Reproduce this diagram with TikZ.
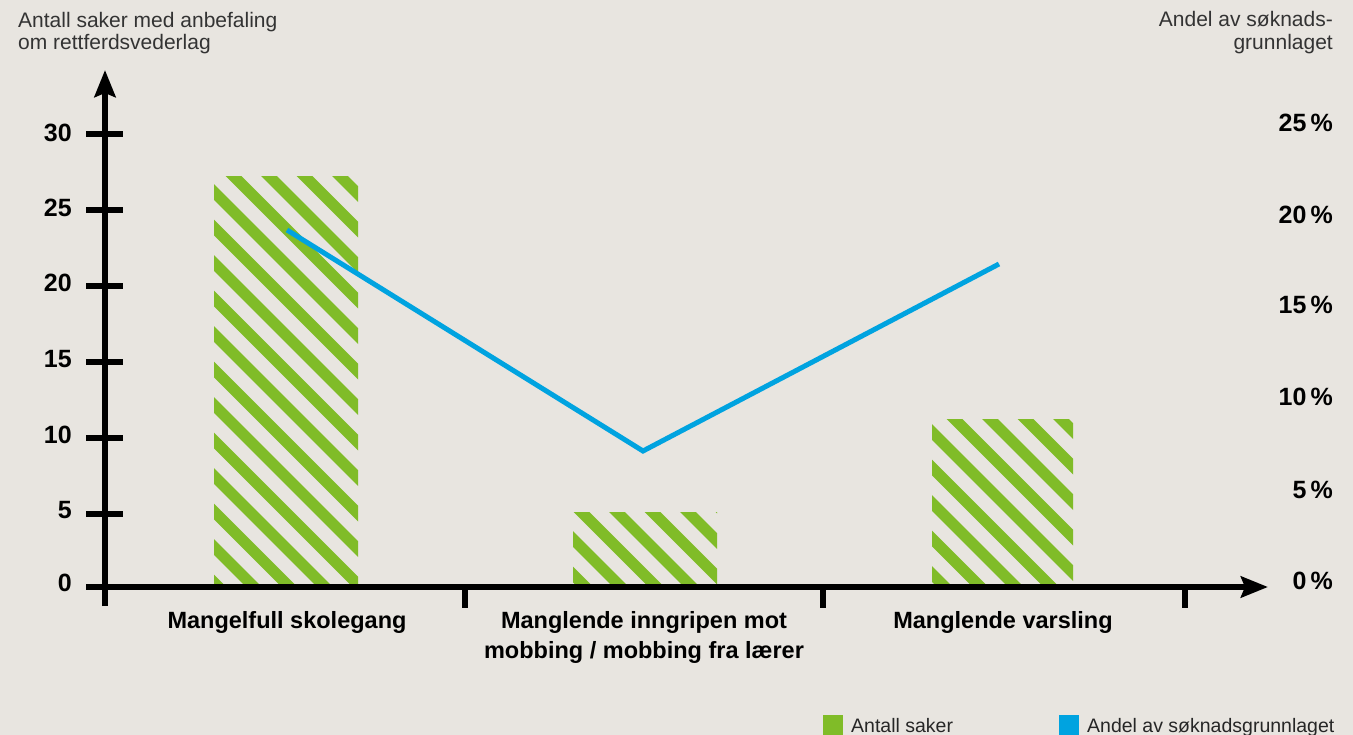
\documentclass[tikz,border=0pt]{standalone}
\usepackage{fontspec}
\setmainfont{Liberation Sans}
\usetikzlibrary{arrows.meta}
\definecolor{bg}{HTML}{E8E5E0}
\definecolor{barg}{HTML}{80BC28}
\definecolor{lineb}{HTML}{00A3E0}
\tikzset{
  axis/.style={line width=6pt, black},
  axarrow/.style={axis, -{Stealth[length=27pt,width=21pt,inset=4pt]}},
  stripe/.style={line width=11pt, barg},
  ticklbl/.style={inner sep=0pt, font=\bfseries\fontsize{25}{28}\selectfont},
  catlbl/.style={inner sep=0pt, font=\bfseries\fontsize{23.5}{28}\selectfont},
  titlelbl/.style={inner sep=0pt, text=black!80, font=\fontsize{21}{22}\selectfont},
  leglbl/.style={inner sep=0pt, text=black!85, font=\fontsize{19.5}{22}\selectfont},
  share/.style={line width=5pt, lineb},
}
\begin{document}
\begin{tikzpicture}[x=1pt,y=-1pt]
\fill[bg] (0,0) rectangle (1353,735);
\useasboundingbox (0,0) rectangle (1353,735);

% hatched bars
\foreach \xl/\xr/\yt/\xc in {214/358/177/234.5, 573/717/512/581.5, 932/1073/420/955.5}{
  \begin{scope}
    \clip (\xl,\yt) rectangle (\xr,587);
    \foreach \k in {-16,...,6}{
      \draw[stripe] (\xc+\k*35.5-500,\yt-500) -- ++(1000,1000);
    }
  \end{scope}
}

% axes
\coordinate (ybot) at (105,606);
\coordinate (ytop) at (105,70);
\coordinate (xl) at (86,587);
\coordinate (xr) at (1268,587);
\draw[axarrow] (ybot) -- (ytop);
\draw[axarrow] (xl) -- (xr);
\foreach \y in {134,210,286,362,438,514}{
  \draw[axis] (86,\y) -- (123,\y);
}
\foreach \x in {465,823,1185}{
  \draw[axis] (\x,587) -- (\x,608);
}

% left tick labels
\foreach \v/\b in {30/142,25/217,20/292,15/368,10/443,5/518,0/591}{
  \node[ticklbl, anchor=base east] (l\v) at (72,\b) {\v};
}
% right tick labels
\foreach \v/\b in {25/132,20/224,15/314,10/406,5/498,0/589}{
  \node[ticklbl, anchor=base east] (r\v) at (1333,\b) {\v\,\%};
}

% titles
\node[titlelbl, anchor=base west] (tl1) at (18,28) {Antall saker med anbefaling};
\node[titlelbl, anchor=base west] (tl2) at (18,50) {om rettferdsvederlag};
\node[titlelbl, anchor=base east] (tr1) at (1333,27) {Andel av søknads-};
\node[titlelbl, anchor=base east] (tr2) at (1333,50) {grunnlaget};

% category labels
\node[catlbl, anchor=base] (c1) at (287,628) {Mangelfull skolegang};
\node[catlbl, anchor=base] (c2a) at (644,628) {Manglende inngripen mot};
\node[catlbl, anchor=base] (c2b) at (644,658) {mobbing / mobbing fra lærer};
\node[catlbl, anchor=base] (c3) at (1003,628) {Manglende varsling};

% share line
\coordinate (p1) at (287,230);
\coordinate (p2) at (643,451);
\coordinate (p3) at (999,264);
\draw[share] (p1) -- (p2) -- (p3);

% legend
\fill[barg] (823,715) rectangle (843,735);
\node[leglbl, anchor=base west] (lg1) at (851,732) {Antall saker};
\fill[lineb] (1059,715) rectangle (1079,735);
\node[leglbl, anchor=base west] (lg2) at (1087,732) {Andel av søknadsgrunnlaget};
\end{tikzpicture}
\end{document}
